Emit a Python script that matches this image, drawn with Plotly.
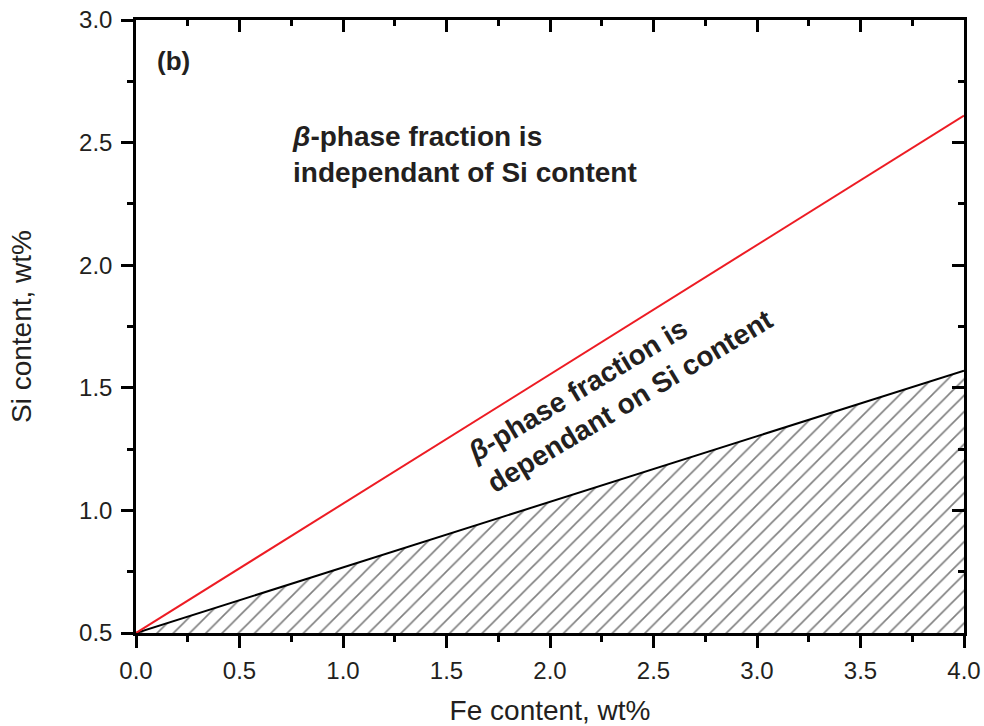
import plotly.graph_objects as go

# Data
fe_content = [0.0, 4.0]
si_red = [0.5, 2.61]       # upper boundary (red line)
si_black = [0.5, 1.57]     # lower boundary (black line, hatched below)

x_ticks = [0.0, 0.5, 1.0, 1.5, 2.0, 2.5, 3.0, 3.5, 4.0]
y_ticks = [0.5, 1.0, 1.5, 2.0, 2.5, 3.0]

FONT = "Arial, Liberation Sans, sans-serif"
TXT = "#231f20"

fig = go.Figure()

fig.add_trace(go.Scatter(
    x=fe_content, y=si_black, mode="lines",
    line=dict(color="black", width=2),
    fill="tozeroy", fillcolor="white",
    fillpattern=dict(shape="/", size=11.5, solidity=0.14, fgcolor="black", bgcolor="white"),
    showlegend=False, hoverinfo="skip"))

fig.add_trace(go.Scatter(
    x=fe_content, y=si_red, mode="lines",
    line=dict(color="#ed1c24", width=2),
    showlegend=False, hoverinfo="skip"))

# invisible trace for top/right mirrored axes with inward ticks
fig.add_trace(go.Scatter(x=[None], y=[None], xaxis="x2", yaxis="y2",
                         showlegend=False, hoverinfo="skip"))

axis_common = dict(showgrid=False, zeroline=False, showline=True, automargin=False,
                   linecolor="black", linewidth=2.5, tickcolor="black",
                   tickwidth=2.5, ticklen=12)

fig.update_layout(
    width=984, height=726,
    margin=dict(l=136, r=20, t=20, b=93),
    paper_bgcolor="white", plot_bgcolor="white",
    font=dict(family=FONT, color=TXT),
    xaxis=dict(range=[0, 4], tickvals=x_ticks, ticktext=[f"{v:.1f}" for v in x_ticks],
               ticks="outside", mirror=True, ticklabelstandoff=2,
               minor=dict(dtick=0.25, ticks="outside", ticklen=6, tickwidth=2.5, tickcolor="black"),
               tickfont=dict(size=24, family=FONT, color=TXT),
               title=dict(text="Fe content, wt%", font=dict(size=28, family=FONT, color=TXT),
                          standoff=30),
               **axis_common),
    yaxis=dict(range=[0.5, 3.0], tickvals=y_ticks, ticktext=[f"{v:.1f}" for v in y_ticks],
               ticks="outside", mirror=True, ticklabelstandoff=4,
               minor=dict(dtick=0.25, ticks="outside", ticklen=6, tickwidth=2.5, tickcolor="black"),
               tickfont=dict(size=24, family=FONT, color=TXT),
               title=dict(text="Si content, wt%", font=dict(size=28, family=FONT, color=TXT),
                          standoff=40),
               **axis_common),
    xaxis2=dict(range=[0, 4], overlaying="x", side="top", tickvals=x_ticks,
                showticklabels=False, ticks="inside",
                minor=dict(dtick=0.25, ticks="inside", ticklen=6, tickwidth=2.5, tickcolor="black"),
                **axis_common),
    yaxis2=dict(range=[0.5, 3.0], overlaying="y", side="right", tickvals=y_ticks,
                showticklabels=False, ticks="inside",
                minor=dict(dtick=0.25, ticks="inside", ticklen=6, tickwidth=2.5, tickcolor="black"),
                **axis_common),
)

fig.add_annotation(x=0.092, y=2.833, xref="x", yref="y", text="<b>(b)</b>",
                   showarrow=False, xanchor="left", yanchor="middle",
                   font=dict(size=26, family=FONT, color=TXT))

fig.add_annotation(x=0.745, y=2.45, xref="x", yref="y",
                   text="<b><i>β</i>-phase fraction is<br>independant of Si content</b>",
                   showarrow=False, xanchor="left", yanchor="middle", align="left",
                   font=dict(size=28, family=FONT, color=TXT))

fig.add_annotation(x=2.34, y=1.51, xref="x", yref="y",
                   text="<b><i>β</i>-phase fraction is<br>dependant on Si content</b>",
                   showarrow=False, xanchor="center", yanchor="middle", align="left",
                   textangle=-31,
                   font=dict(size=28, family=FONT, color=TXT))

fig.write_html("out.html")
